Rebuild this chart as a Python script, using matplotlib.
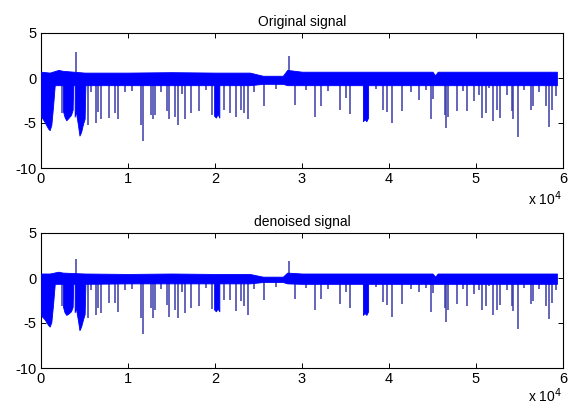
import matplotlib
matplotlib.use("Agg")
import matplotlib.pyplot as plt
import numpy as np

plt.rcParams['font.family'] = ['Liberation Sans', 'DejaVu Sans']

# ---------------- data ----------------
n_samples = 59300
x_ticks = [0, 1, 2, 3, 4, 5, 6]          # x 10^4
y_ticks = [-10, -5, 0, 5]
titles = ["Original signal", "denoised signal"]

# dense noise band envelope (x in samples)
env_x = [0, 1000, 2000, 2500, 5000, 10000, 15000, 20000, 24000, 25500,
         27800, 28300, 30000, 35000, 40000, 45000, 45300, 45600, 50000, 55000, 59300]
orig_upper = [0.7, 0.6, 0.9, 0.8, 0.6, 0.6, 0.65, 0.6, 0.6, 0.25,
              0.25, 0.9, 0.7, 0.7, 0.7, 0.7, 0.3, 0.7, 0.7, 0.7, 0.7]
orig_lower = [-0.8, -0.8, -0.8, -0.8, -0.8, -0.8, -0.8, -0.8, -0.8, -0.65,
              -0.65, -0.8, -0.8, -0.8, -0.8, -0.8, -0.8, -0.8, -0.8, -0.8, -0.8]
den_upper = [0.5, 0.5, 0.7, 0.6, 0.5, 0.45, 0.5, 0.45, 0.45, 0.15,
             0.15, 0.6, 0.5, 0.5, 0.5, 0.5, 0.15, 0.5, 0.5, 0.5, 0.5]
den_lower = [-0.65, -0.65, -0.65, -0.65, -0.65, -0.6, -0.6, -0.6, -0.6, -0.45,
             -0.45, -0.6, -0.65, -0.65, -0.65, -0.65, -0.65, -0.65, -0.65, -0.65, -0.65]

# dense spike blocks: x positions and bottom values
block1_x = [0, 40, 420, 805, 996, 1188, 1379, 1571]
block1_orig = [-4.3, -4.3, -4.9, -5.6, -5.8, -5.2, -3.2, -0.9]
block1_den = [-4.0, -4.2, -4.6, -5.2, -5.4, -4.9, -3.0, -0.8]

block2_x = [2530, 2700, 2900, 3100, 3450, 3640, 3700]
block2_orig = [-3.7, -4.3, -4.7, -4.5, -4.1, -3.5, -0.9]
block2_den = [-3.2, -3.8, -4.1, -4.0, -3.7, -3.2, -0.8]

block3_x = [3870, 4000, 4230, 4420, 4610, 4830, 5020, 5100]
block3_orig = [-4.3, -3.7, -5.1, -6.4, -6.0, -5.1, -4.5, -0.9]
block3_den = [-3.8, -3.3, -4.6, -5.8, -5.4, -4.6, -4.0, -0.8]

block4_x = [19900, 20100, 20300, 20500]
block4_orig = [-4.2, -4.4, -4.0, -4.4]
block4_den = [-3.5, -3.7, -3.4, -3.7]

block5_x = [37000, 37200, 37400, 37600]
block5_orig = [-4.8, -4.6, -4.8, -4.4]
block5_den = [-4.1, -3.9, -4.1, -3.7]

# isolated downward spikes (x in units of 1e4 samples)
spike_x = [0.24, 0.535, 0.635, 0.655, 0.69, 0.777, 0.854, 0.88, 1.15, 1.17,
           1.26, 1.29, 1.31, 1.45, 1.47, 1.54, 1.58, 1.66, 1.72, 1.82,
           1.97, 2.10, 2.17, 2.24, 2.30, 2.33, 2.38, 2.56, 2.92, 3.15,
           3.22, 3.44, 3.50, 3.55, 3.93, 3.98, 4.04, 4.15, 4.35, 4.48,
           4.51, 4.64, 4.65, 4.68, 4.78, 4.90, 4.98, 5.04, 5.07, 5.12,
           5.15, 5.20, 5.24, 5.28, 5.36, 5.41, 5.43, 5.48, 5.63, 5.65,
           5.80, 5.84, 5.87, 5.92,
           0.58, 0.97, 1.05, 1.38, 1.62, 1.90, 2.45, 2.70, 3.05, 3.30,
           3.85, 4.25, 4.42, 4.85, 5.55, 5.72]
spike_orig = [-3.9, -5.2, -5.0, -3.8, -4.6, -4.4, -3.9, -4.6, -5.2, -7.0,
              -4.1, -4.6, -4.1, -3.7, -4.6, -4.3, -5.2, -4.6, -3.9, -3.7,
              -4.1, -3.5, -3.9, -4.3, -3.5, -3.9, -4.6, -3.1, -3.0, -4.3,
              -3.1, -3.5, -2.2, -4.0, -3.5, -3.8, -5.0, -3.7, -2.4, -4.6,
              -2.3, -4.1, -5.6, -4.3, -3.7, -3.7, -2.6, -1.9, -4.4, -3.9,
              -1.1, -4.8, -3.5, -4.4, -1.9, -3.7, -4.6, -6.5, -3.5, -3.1,
              -3.1, -5.4, -3.5, -2.0,
              -1.5, -1.6, -1.4, -1.5, -1.8, -1.3, -1.5, -1.2, -1.3, -1.4,
              -1.2, -1.5, -1.3, -1.4, -1.3, -1.5]
spike_den = [-3.1, -4.4, -4.1, -3.3, -3.9, -2.8, -2.8, -3.8, -4.4, -6.2,
             -3.3, -4.4, -3.5, -3.0, -4.3, -3.5, -4.4, -3.9, -3.3, -3.1,
             -3.4, -2.4, -2.4, -3.7, -2.6, -3.1, -4.1, -2.4, -2.3, -3.5,
             -2.3, -2.9, -1.5, -3.3, -2.7, -3.0, -4.3, -2.9, -1.5, -3.8,
             -1.7, -3.3, -4.9, -3.5, -2.9, -3.1, -1.8, -1.3, -3.5, -3.1,
             -0.9, -4.1, -3.5, -3.0, -1.3, -3.1, -3.7, -5.7, -2.9, -2.5,
             -3.1, -4.6, -2.8, -1.3,
             -1.3, -1.3, -1.2, -1.2, -1.5, -1.1, -1.2, -1.0, -1.1, -1.2,
             -1.0, -1.2, -1.1, -1.2, -1.1, -1.2]

# upward spikes
up_x = [0.40, 2.845]
up_orig = [2.85, 2.5]
up_den = [2.1, 1.85]

# ---------------- drawing ----------------
fig = plt.figure(figsize=(5.69, 4.08), dpi=100)
fig.patch.set_facecolor('white')

axes_pos = [[41/569, 1-168/408, 522/569, 135/408],
            [41/569, 1-368/408, 522/569, 135/408]]

sets = [
    (orig_upper, orig_lower, [block1_orig, block2_orig, block3_orig, block4_orig, block5_orig], spike_orig, up_orig),
    (den_upper, den_lower, [block1_den, block2_den, block3_den, block4_den, block5_den], spike_den, up_den),
]
block_xs = [block1_x, block2_x, block3_x, block4_x, block5_x]

band_col = '#0000ff'
spike_col = '#3a3aa8'

for i, (up, lo, blocks, sp, ups) in enumerate(sets):
    ax = fig.add_axes(axes_pos[i])
    sx = np.array(spike_x) * 1e4
    ax.vlines(sx, 0, sp, color=spike_col, lw=1.1, zorder=2)
    ax.vlines(np.array(up_x) * 1e4, 0, ups, color=spike_col, lw=1.1, zorder=2)
    for bx, by in zip(block_xs, blocks):
        ax.fill_between(bx, 0, by, color=band_col, lw=0.6, zorder=3)
    ax.fill_between(env_x, lo, up, color=band_col, lw=0.6, zorder=4)

    ax.set_xlim(0, 60000)
    ax.set_ylim(-10, 5)
    ax.set_xticks(np.array(x_ticks) * 1e4)
    ax.set_xticklabels([str(t) for t in x_ticks])
    ax.set_yticks(y_ticks)
    ax.set_yticklabels([str(t) for t in y_ticks])
    ax.tick_params(direction='in', length=3.5, width=0.7, top=True, right=True,
                   labelsize=10.5, colors='black')
    ax.tick_params(axis='x', pad=3)
    ax.tick_params(axis='y', pad=3)
    for s in ax.spines.values():
        s.set_linewidth(0.8)
        s.set_color('black')
    ax.set_title(titles[i], fontsize=10, pad=5)

fig.text(562/569, 1-199/408, r'x 10$^{4}$', ha='right', va='center', fontsize=10)
fig.text(562/569, 1-396/408, r'x 10$^{4}$', ha='right', va='center', fontsize=10)

fig.savefig('out.png', dpi=100, facecolor='white')
